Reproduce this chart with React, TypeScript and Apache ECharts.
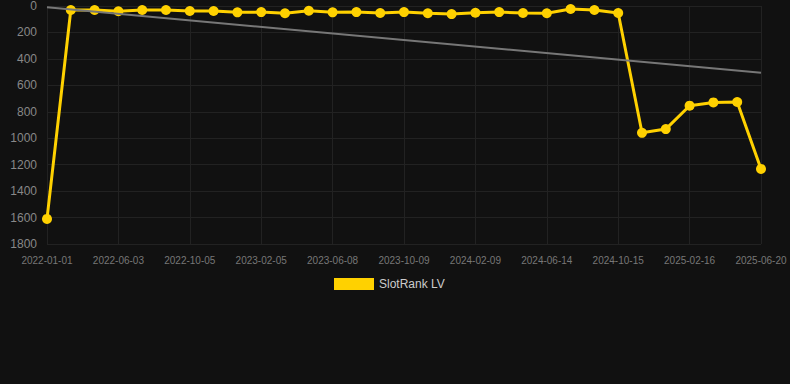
import React, { useEffect, useRef } from "react";
import * as echarts from "echarts";

const categories = [
  "2022-01-01", "2022-02-21", "2022-04-13", "2022-06-03", "2022-07-14", "2022-08-25",
  "2022-10-05", "2022-11-15", "2022-12-26", "2023-02-05", "2023-03-18", "2023-04-28",
  "2023-06-08", "2023-07-19", "2023-08-29", "2023-10-09", "2023-11-19", "2023-12-30",
  "2024-02-09", "2024-03-21", "2024-05-03", "2024-06-14", "2024-07-25", "2024-09-04",
  "2024-10-15", "2024-11-25", "2025-01-05", "2025-02-16", "2025-03-29", "2025-05-09",
  "2025-06-20",
];

const rankValues = [
  1610, 30, 30, 40, 30, 30, 38, 38, 48, 46, 55, 36, 48, 46, 53, 46,
  55, 61, 51, 46, 53, 55, 23, 30, 53, 959, 931, 754, 729, 726, 1232,
];

// trend line end values
const trendValues = [10, 505];

const yTicks = { min: 0, max: 1800, interval: 200 };

export default function App() {
  const ref = useRef<HTMLDivElement>(null);
  useEffect(() => {
    document.body.style.margin = "0";
    document.body.style.background = "#111111";
    const chart = echarts.init(ref.current!, null, { renderer: "svg" });
    chart.setOption({
      animation: false,
      backgroundColor: "#111111",
      grid: { left: 47, right: 29, top: 6, bottom: 140, containLabel: false },
      legend: {
        left: 329,
        top: 273,
        itemWidth: 40,
        itemHeight: 12,
        icon: "rect",
        itemGap: 10,
        textStyle: { color: "#cccccc", fontSize: 12, fontFamily: "Liberation Sans, Arial, sans-serif" },
        data: ["SlotRank LV"],
      },
      xAxis: {
        type: "category",
        data: categories,
        boundaryGap: false,
        axisLine: { show: false },
        axisTick: { show: false },
        axisLabel: {
          interval: 2,
          color: "#777777",
          fontSize: 10,
          margin: 11,
          fontFamily: "Liberation Sans, Arial, sans-serif",
        },
        splitLine: { show: true, interval: 2, lineStyle: { color: "#222222", width: 1 } },
      },
      yAxis: {
        type: "value",
        inverse: true,
        min: yTicks.min,
        max: yTicks.max,
        interval: yTicks.interval,
        axisLine: { show: false },
        axisTick: { show: false },
        axisLabel: {
          color: "#888888",
          fontSize: 12,
          margin: 10,
          formatter: (v: number) => String(v),
          fontFamily: "Liberation Sans, Arial, sans-serif",
        },
        splitLine: { show: true, lineStyle: { color: "#222222", width: 1 } },
      },
      series: [
        {
          name: "SlotRank LV",
          type: "line",
          data: rankValues,
          symbol: "circle",
          symbolSize: 10,
          showSymbol: true,
          itemStyle: { color: "#FFD100" },
          lineStyle: { color: "#FFD100", width: 3 },
          z: 3,
        },
        {
          name: "trend",
          type: "line",
          data: [],
          silent: true,
          markLine: {
            silent: true,
            symbol: ["none", "none"],
            label: { show: false },
            lineStyle: { color: "#777777", width: 2, type: "solid" },
            data: [
              [
                { coord: [categories[0], trendValues[0]] },
                { coord: [categories[categories.length - 1], trendValues[1]] },
              ],
            ],
          },
          z: 2,
        },
      ],
    });
    return () => chart.dispose();
  }, []);
  return <div ref={ref} style={{ width: 790, height: 384 }} />;
}
